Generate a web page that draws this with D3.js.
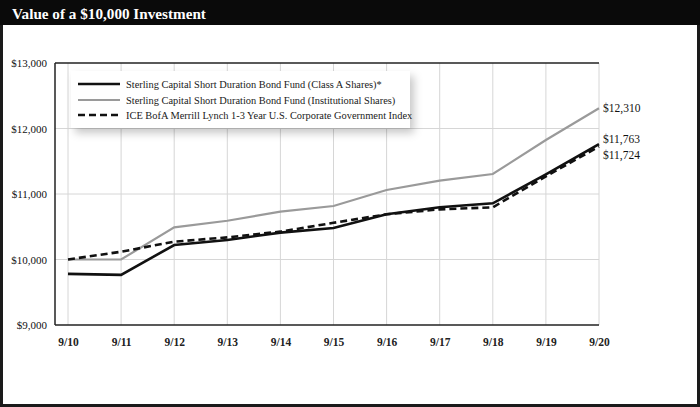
<!DOCTYPE html>
<html><head><meta charset="utf-8">
<script src="https://cdn.jsdelivr.net/npm/d3@7"></script>
<style>html,body{margin:0;padding:0;background:#fff;}svg{display:block;}</style>
</head><body>
<script>
const periods = ["9/10","9/11","9/12","9/13","9/14","9/15","9/16","9/17","9/18","9/19","9/20"];
const classA = [9780, 9765, 10221, 10298, 10410, 10480, 10690, 10797, 10858, 11300, 11763];
const institutional = [10000, 10000, 10491, 10592, 10730, 10817, 11061, 11203, 11305, 11824, 12310];
const indexVals = [10000, 10119, 10272, 10338, 10425, 10560, 10690, 10766, 10797, 11270, 11724];
const yTicks = [9000, 10000, 11000, 12000, 13000];
const seriesNames = [
  "Sterling Capital Short Duration Bond Fund (Class A Shares)*",
  "Sterling Capital Short Duration Bond Fund (Institutional Shares)",
  "ICE BofA Merrill Lynch 1-3 Year U.S. Corporate Government Index"
];
const endLabels = ["$11,763", "$12,310", "$11,724"];
const titleText = "Value of a $10,000 Investment";

(function(){
const W = 700, H = 407;
const font = "'Liberation Serif', 'DejaVu Serif', serif";
const svg = d3.select("body").append("svg").attr("width", W).attr("height", H);

const defs = svg.append("defs");
const f = defs.append("filter").attr("id","sh").attr("x","-10%").attr("y","-30%").attr("width","130%").attr("height","180%");
f.append("feDropShadow").attr("dx",4).attr("dy",5).attr("stdDeviation",4).attr("flood-color","#000").attr("flood-opacity",0.22);

svg.append("rect").attr("x",1.5).attr("y",1.5).attr("width",W-3).attr("height",H-3)
  .attr("fill","#fff").attr("stroke","#1a1a1a").attr("stroke-width",3);
svg.append("rect").attr("x",0).attr("y",0).attr("width",W).attr("height",25).attr("fill","#0a0a0a");
svg.append("text").attr("x",12).attr("y",19).attr("fill","#fff")
  .attr("font-family",font).attr("font-size",15.2).attr("font-weight","bold").text(titleText);

const pL = 55, pR = 599, pT = 63, pB = 325;
const x = d3.scalePoint().domain(periods).range([68, 599]);
const y = d3.scaleLinear().domain([9000, 13000]).range([pB, pT]);

const g = svg.append("g");
g.selectAll("line.vg").data(periods).enter().append("line")
  .attr("x1", d=>x(d)).attr("x2", d=>x(d)).attr("y1", pT).attr("y2", pB)
  .attr("stroke","#d6d6d6").attr("stroke-width",1);
g.selectAll("line.hg").data(yTicks.slice(1,4)).enter().append("line")
  .attr("x1", pL).attr("x2", pR).attr("y1", d=>y(d)).attr("y2", d=>y(d))
  .attr("stroke","#d6d6d6").attr("stroke-width",1);
g.append("line").attr("x1",pL).attr("x2",pR).attr("y1",pT).attr("y2",pT).attr("stroke","#222").attr("stroke-width",1.5);
g.append("line").attr("x1",pL).attr("x2",pL).attr("y1",pT).attr("y2",pB).attr("stroke","#222").attr("stroke-width",1.5);
g.append("line").attr("x1",pL).attr("x2",pR).attr("y1",pB).attr("y2",pB).attr("stroke","#222").attr("stroke-width",1.5);

const yAxis = d3.axisLeft(y).tickValues(yTicks).tickSize(0).tickPadding(8).tickFormat(d=>"$"+d3.format(",")(d));
const ya = svg.append("g").attr("transform",`translate(${pL},0)`).call(yAxis);
ya.select(".domain").remove();
ya.selectAll("text").attr("font-family",font).attr("font-size",11).attr("font-weight","normal").attr("fill","#111");

const xAxis = d3.axisBottom(x).tickSize(0).tickPadding(13);
const xa = svg.append("g").attr("transform",`translate(0,${pB})`).call(xAxis);
xa.select(".domain").remove();
xa.selectAll("text").attr("font-family",font).attr("font-size",11.5).attr("font-weight","bold").attr("fill","#222");

const line = d3.line().x((d,i)=>x(periods[i])).y(d=>y(d));
const styles = [
  {data: classA, color:"#111", w:2.6, dash:null},
  {data: institutional, color:"#9a9a9a", w:2.2, dash:null},
  {data: indexVals, color:"#111", w:2.6, dash:"7,4"}
];
[1,0,2].forEach(i=>{
  const s = styles[i];
  svg.append("path").attr("d", line(s.data)).attr("fill","none")
    .attr("stroke", s.color).attr("stroke-width", s.w).attr("stroke-dasharray", s.dash)
    .attr("stroke-linejoin","miter");
});

const endY = [y(classA[10]) - 1, y(institutional[10]) + 4, y(indexVals[10]) + 12];
endLabels.forEach((t,i)=>{
  svg.append("text").attr("x", 603).attr("y", endY[i]).attr("font-family",font)
    .attr("font-size",11.5).attr("fill","#111").text(t);
});

const lg = svg.append("g");
lg.append("rect").attr("x",71).attr("y",71).attr("width",339).attr("height",57)
  .attr("fill","#fff").attr("filter","url(#sh)");
const rowsY = [84, 100, 115];
styles.forEach((s,i)=>{
  lg.append("line").attr("x1",78).attr("x2",120).attr("y1",rowsY[i]).attr("y2",rowsY[i])
    .attr("stroke", s.color).attr("stroke-width", s.w).attr("stroke-dasharray", s.dash);
  lg.append("text").attr("x",126).attr("y",rowsY[i]+4).attr("font-family",font)
    .attr("font-size",10.4).attr("fill","#1a1a1a").text(seriesNames[i]);
});
})();
</script>
</body></html>
